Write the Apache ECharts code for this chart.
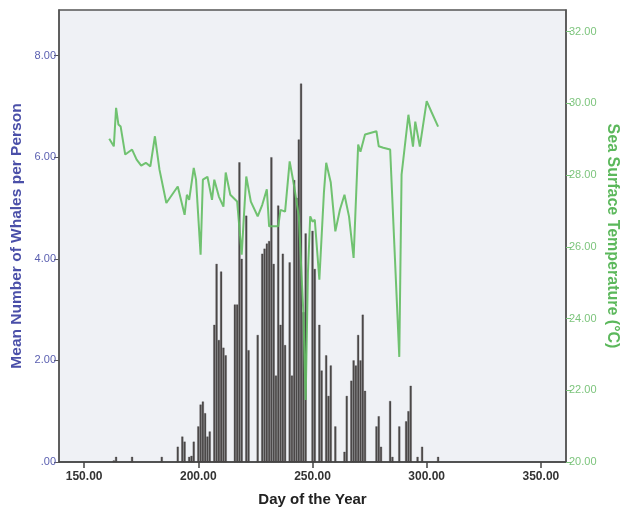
<!DOCTYPE html>
<html>
<head>
<meta charset="utf-8">
<script src="https://cdn.jsdelivr.net/npm/echarts@6/dist/echarts.min.js"></script>
<style>
html,body{margin:0;padding:0;background:#ffffff;}
#chart{width:623px;height:513px;}
</style>
</head>
<body>
<div id="chart"></div>
<script>
// Whale counts: day of year and mean number of whales per person
var barDays = [163,164,171,184,191,193,194,196,197,198,200,201,202,203,204,205,207,208,209,210,211,212,216,217,218,219,221,222,226,228,229,230,231,232,233,234,235,236,237,238,240,241,242,243,244,245,246,247,250,251,253,254,256,257,258,260,264,265,267,268,269,270,271,272,273,278,279,280,284,285,288,291,292,293,296,298,305];
var barValues = [0.03,0.1,0.1,0.1,0.3,0.5,0.4,0.1,0.12,0.4,0.7,1.13,1.19,0.96,0.5,0.6,2.7,3.9,2.4,3.75,2.25,2.1,3.1,3.1,5.9,4.0,4.85,2.2,2.5,4.1,4.2,4.3,4.35,6.0,3.9,1.7,5.05,2.7,4.1,2.3,3.93,1.7,5.55,5.2,6.35,7.45,2.95,4.5,4.55,3.8,2.7,1.8,2.1,1.3,1.9,0.7,0.2,1.3,1.6,2.0,1.9,2.5,2.0,2.9,1.4,0.7,0.9,0.3,1.2,0.1,0.7,0.8,1.0,1.5,0.1,0.3,0.1];
// Sea surface temperature
var sstDays = [161,163,164,165,166,168,171,173,175,177,179,181,183,186,191,194,195,196,198,199,201,202,204,206,207,209,211,212,214,217,219,220,221,223,226,228,230,231,235,236,238,240,242,244,246,247,248,249,250,251,253,255,256,258,260,262,264,266,268,270,271,273,278,279,281,284,288,289,292,294,295,297,300,302,305];
var sstValues = [29.01,28.80,29.87,29.41,29.35,28.57,28.71,28.43,28.26,28.34,28.24,29.08,28.15,27.22,27.68,26.89,27.45,27.31,28.20,27.87,25.78,27.87,27.95,27.31,27.87,27.40,27.12,28.07,27.45,27.26,25.78,26.89,27.96,27.26,26.85,27.17,27.60,26.57,26.57,27.03,26.98,28.38,27.68,26.85,24.16,21.73,25.27,26.85,26.70,26.75,25.08,27.51,28.34,27.79,26.43,27.03,27.45,26.84,25.69,28.85,28.65,29.13,29.22,28.80,28.76,28.71,22.93,28.01,29.68,28.79,29.49,28.79,30.06,29.77,29.35];
var xTicks = [150,200,250,300,350];
var leftTicks = [0,2,4,6,8];
var rightTicks = [20,22,24,26,28,30,32];

var barData = barDays.map(function(d,i){return [d, barValues[i]];});
var lineData = sstDays.map(function(d,i){return [d, sstValues[i]];});

function fmt(v){ var s = Number(v).toFixed(2); return s.indexOf('0.')===0 ? s.slice(1) : s; }

var chart = echarts.init(document.getElementById('chart'), null, {renderer:'canvas'});
chart.setOption({
  animation:false,
  backgroundColor:'#ffffff',
  grid:{left:59,right:57,top:10,bottom:51,outerBoundsMode:'none',containLabel:false,show:true,backgroundColor:'#eff1f5',borderColor:'#555555',borderWidth:1.5},
  xAxis:{
    type:'value',min:139,max:361,
    name:'Day of the Year',nameLocation:'middle',nameGap:30,nameMoveOverlap:false,
    nameTextStyle:{fontFamily:'Liberation Sans',fontWeight:'bold',fontSize:15,color:'#222222'},
    axisLine:{show:true,lineStyle:{color:'#444444',width:1.5}},
    axisTick:{show:true,customValues:xTicks,length:6,lineStyle:{color:'#444444',width:1.5}},
    axisLabel:{customValues:xTicks,formatter:fmt,fontFamily:'Liberation Sans',fontSize:12,fontWeight:'bold',color:'#333333',margin:9},
    splitLine:{show:false}
  },
  yAxis:[{
    type:'value',min:0,max:8.9,position:'left',
    name:'Mean Number of Whales per Person',nameLocation:'middle',nameGap:34,nameRotate:90,nameMoveOverlap:false,
    nameTextStyle:{fontFamily:'Liberation Sans',fontWeight:'bold',fontSize:15.5,color:'#4a4fa8'},
    axisLine:{show:true,lineStyle:{color:'#555555',width:1.5}},
    axisTick:{show:true,customValues:leftTicks,length:5,lineStyle:{color:'#555555'}},
    axisLabel:{customValues:leftTicks,formatter:fmt,fontFamily:'Liberation Sans',fontSize:11,color:'#5a5fb0',margin:3},
    splitLine:{show:false}
  },{
    type:'value',min:20,max:32.6,position:'right',
    name:'Sea Surface Temperature (°C)',nameLocation:'middle',nameGap:38,nameRotate:-90,nameMoveOverlap:false,
    nameTextStyle:{fontFamily:'Liberation Sans',fontWeight:'bold',fontSize:16,color:'#5cb85c'},
    axisLine:{show:true,lineStyle:{color:'#555555',width:1.5}},
    axisTick:{show:true,customValues:rightTicks,length:5,lineStyle:{color:'#7cc47c'}},
    axisLabel:{customValues:rightTicks,formatter:fmt,fontFamily:'Liberation Sans',fontSize:11,color:'#7cc47c',margin:3},
    splitLine:{show:false}
  }],
  series:[{
    type:'bar',yAxisIndex:0,data:barData,barWidth:2,
    itemStyle:{color:'#4e4b4b',borderColor:'#3a3838',borderWidth:0.3}
  },{
    type:'line',yAxisIndex:1,data:lineData,symbol:'none',z:3,
    lineStyle:{color:'#62bd62',width:2,opacity:0.9}
  }]
});
</script>
</body>
</html>
